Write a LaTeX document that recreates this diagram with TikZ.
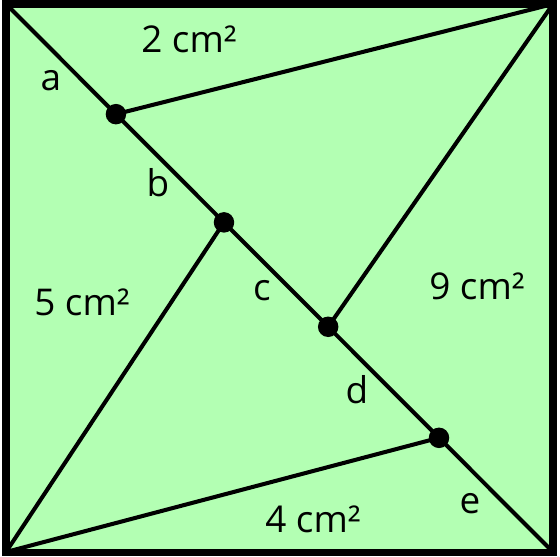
\documentclass[tikz,border=0pt]{standalone}
\usepackage{fontspec}
\setmainfont{Open Sans}
\usetikzlibrary{calc}
\definecolor{paper}{RGB}{179,255,179}
\tikzset{
  frame/.style={line width=4pt,fill=paper,line join=miter},
  cut/.style={line width=2.3pt},
  dot/.style={circle,fill=black,inner sep=0pt,minimum size=0.41cm},
  lbl/.style={anchor=base,font=\fontsize{21}{25}\selectfont},
}
\begin{document}
\begin{tikzpicture}[x=0.02cm,y=-0.02cm]
    \useasboundingbox (0,0) rectangle (560,556);
    \coordinate (tl) at (6,4);
    \coordinate (tr) at (553,4);
    \coordinate (bl) at (6,552);
    \coordinate (br) at (553,552);
    \draw [frame] (tl) rectangle (br);
    \draw [cut] (tl) -- (br);

    \foreach \t/\n in {0.201/p1,0.3985/p2,0.589/p3,0.7916/p4}
      \coordinate (\n) at ($(tl)!\t!(br)$);
    \draw [cut] (p1) -- (tr);
    \draw [cut] (p2) -- (bl);
    \draw [cut] (p3) -- (tr);
    \draw [cut] (p4) -- (bl);
    \foreach \n in {p1,p2,p3,p4}
      \node [dot] (d\n) at (\n) {};

    \node [lbl] (sa) at (51,90) {a};
    \node [lbl] (sb) at (158,196) {b};
    \node [lbl] (sc) at (262,300) {c};
    \node [lbl] (sd) at (357,403) {d};
    \node [lbl] (se) at (470,513) {e};
    \node [lbl] (two) at (189,52) {2 cm²};
    \node [lbl] (five) at (82,315) {5 cm²};
    \node [lbl] (nine) at (477,299) {9 cm²};
    \node [lbl] (four) at (313,532) {4 cm²};
\end{tikzpicture}
\end{document}
